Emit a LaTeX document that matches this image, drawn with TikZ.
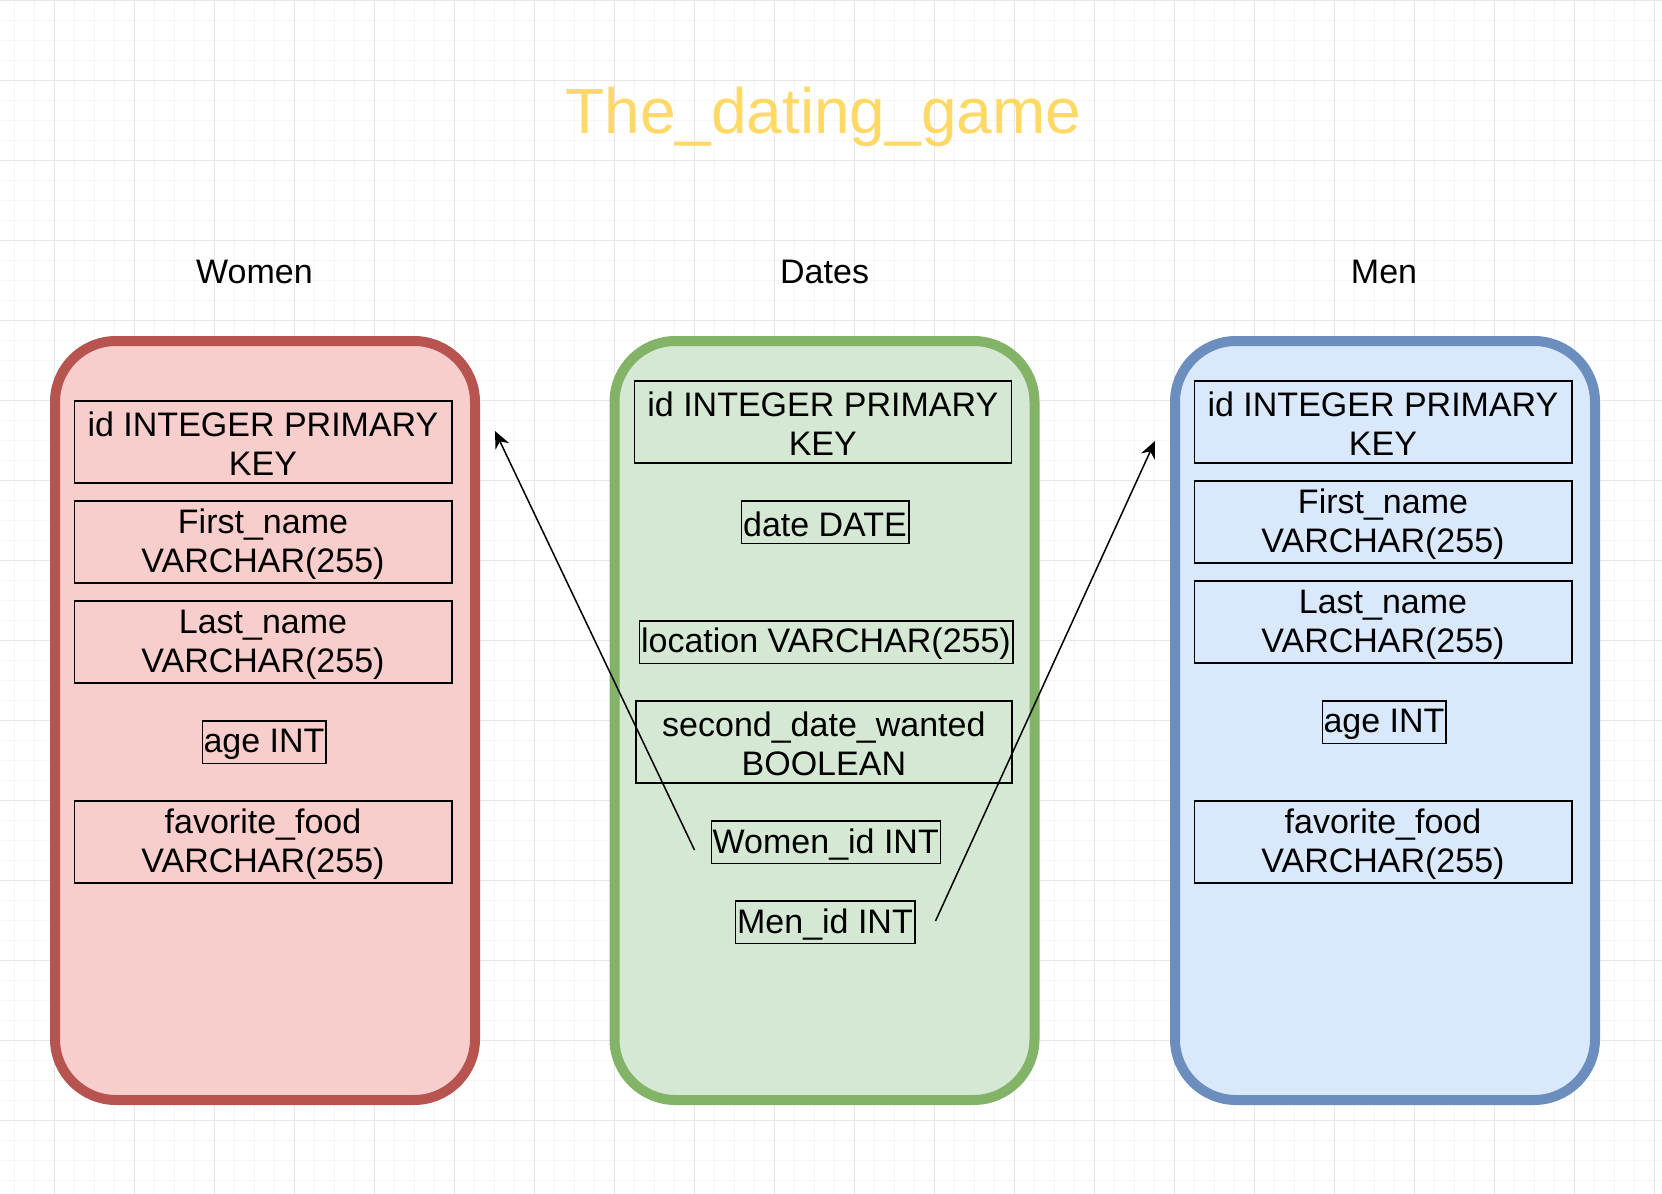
\documentclass[tikz,border=0pt]{standalone}
\usepackage{fontspec}
\setmainfont{Liberation Sans}
\usetikzlibrary{calc,arrows.meta}

\definecolor{redfill}{HTML}{F8CECC}
\definecolor{redline}{HTML}{B85450}
\definecolor{greenfill}{HTML}{D5E8D4}
\definecolor{greenline}{HTML}{82B366}
\definecolor{bluefill}{HTML}{DAE8FC}
\definecolor{blueline}{HTML}{6C8EBF}
\definecolor{titlegold}{HTML}{FFD966}
\definecolor{gridminor}{HTML}{F6F6F6}
\definecolor{gridmajor}{HTML}{E6E6E6}

% strut: sets the line box used for vertical centring
\newcommand\tst{\rule[-0.5pt]{0pt}{15pt}}

\tikzset{
  txt/.style={font=\fontsize{17pt}{19.8pt}\selectfont, inner sep=0pt, align=center},
  field/.style={txt, draw=black, line width=0.8pt},
  twoline/.style={field, minimum width=188.7pt, minimum height=41.15pt},
  oneline/.style={field, minimum height=21.3pt},
  table/.style={rounded corners=30.5pt, line width=5pt, minimum width=210pt,
                minimum height=379.5pt, inner sep=0pt},
  header/.style={font=\fontsize{17pt}{20pt}\selectfont, anchor=base, inner sep=0pt},
  link/.style={draw=black, line width=0.75pt, -{Stealth[length=8.5pt,width=7.5pt]}},
  minorgrid/.style={draw=gridminor, line width=0.6pt},
  majorgrid/.style={draw=gridmajor, line width=0.7pt},
}

\begin{document}
\begin{tikzpicture}[x=0.5pt, y=-0.5pt]
  % canvas
  \useasboundingbox (0,0) rectangle (1662,1194);
  \fill[white] (0,0) rectangle (1662,1194);

  % background grid
  \foreach \i in {0,...,82} \draw[minorgrid] ({14.3+20*\i},0) -- ({14.3+20*\i},1194);
  \foreach \j in {0,...,59} \draw[minorgrid] (0,{0.3+20*\j}) -- (1662,{0.3+20*\j});
  \foreach \i in {0,...,20} \draw[majorgrid] ({54.3+80*\i},0) -- ({54.3+80*\i},1194);
  \foreach \j in {0,...,14} \draw[majorgrid] (0,{0.3+80*\j}) -- (1662,{0.3+80*\j});

  % title
  \node[anchor=base, inner sep=0pt, text=titlegold,
        font=\fontsize{32pt}{38pt}\selectfont] (title) at (823.3,133.3) {The\_dating\_game};

  % table captions
  \node[header] (womenlbl) at (254.5,283.3) {Women};
  \node[header] (dateslbl) at (824.6,283.3) {Dates};
  \node[header] (menlbl)   at (1384,283.3) {Men};

  % table containers
  \node[table, draw=redline,   fill=redfill]   (women) at (265,720.5) {};
  \node[table, draw=greenline, fill=greenfill] (dates) at (824.5,720.5) {};
  \node[table, draw=blueline,  fill=bluefill]  (men)   at (1385,720.5) {};

  % Women columns
  \node[twoline] (wid)    at (263,441.85) {\tst id INTEGER PRIMARY\\\tst KEY};
  \node[twoline] (wfirst) at (263,541.85) {\tst First\_name\\\tst VARCHAR(255)};
  \node[twoline] (wlast)  at (263,641.85) {\tst Last\_name\\\tst VARCHAR(255)};
  \node[oneline, minimum width=61.7pt] (wage) at (264,742) {\tst age INT};
  \node[twoline] (wfood)  at (263,841.85) {\tst favorite\_food\\\tst VARCHAR(255)};

  % Dates columns
  \node[twoline, minimum width=188.5pt] (did) at (822.8,421.85) {\tst id INTEGER PRIMARY\\\tst KEY};
  \node[oneline, minimum width=83.7pt]  (ddate) at (825,522) {\tst date DATE};
  \node[oneline, minimum width=186.7pt] (dloc)  at (826,642) {\tst location VARCHAR(255)};
  \node[twoline, minimum width=187.85pt] (dsecond) at (823.85,741.85) {\tst second\_date\_wanted\\\tst BOOLEAN};
  \node[oneline, minimum width=114.5pt] (dwomen) at (825.8,842) {\tst Women\_id INT};
  \node[oneline, minimum width=89.7pt]  (dmen)   at (825,922) {\tst Men\_id INT};

  % Men columns
  \node[twoline] (mid)    at (1383,421.85) {\tst id INTEGER PRIMARY\\\tst KEY};
  \node[twoline] (mfirst) at (1383,521.85) {\tst First\_name\\\tst VARCHAR(255)};
  \node[twoline] (mlast)  at (1383,621.85) {\tst Last\_name\\\tst VARCHAR(255)};
  \node[oneline, minimum width=61.7pt] (mage) at (1384,722) {\tst age INT};
  \node[twoline] (mfood)  at (1383,841.85) {\tst favorite\_food\\\tst VARCHAR(255)};

  % foreign key references
  \coordinate (wfrom) at ($(dwomen.west)+(-16,8)$);
  \coordinate (wto)   at ($(women.north east)+(15,95)$);
  \coordinate (mfrom) at ($(dmen.east)+(20,-1)$);
  \coordinate (mto)   at ($(men.north west)+(-15,105)$);
  \draw[link] (wfrom) -- (wto);
  \draw[link] (mfrom) -- (mto);
\end{tikzpicture}
\end{document}
